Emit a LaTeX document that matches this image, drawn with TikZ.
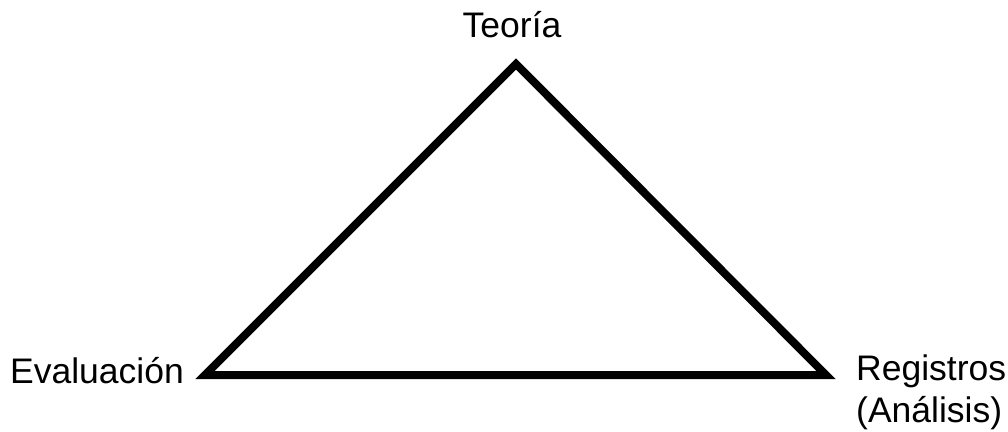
\documentclass[tikz,border=0pt]{standalone}
\usepackage{fontspec}
\setmainfont{Liberation Sans}
\begin{document}
\begin{tikzpicture}[x=1pt,y=-1pt,
  lbl/.style={inner sep=0pt, font=\fontsize{35.5}{42}\selectfont},
  edge/.style={line width=8pt, line join=miter}]
\useasboundingbox (0,0) rectangle (1008,431);
\coordinate (T) at (516,64);
\coordinate (L) at (205,375);
\coordinate (R) at (826,375);
\draw[edge] (L) -- (T) -- (R) -- cycle;
\node[lbl, anchor=base] (teoria) at (512,37) {Teoría};
\node[lbl, anchor=base west] (eval) at (10,383) {Evaluación};
\node[lbl, anchor=base west, align=left] (reg) at (856,422) {Registros\\(Análisis)};
\end{tikzpicture}
\end{document}
